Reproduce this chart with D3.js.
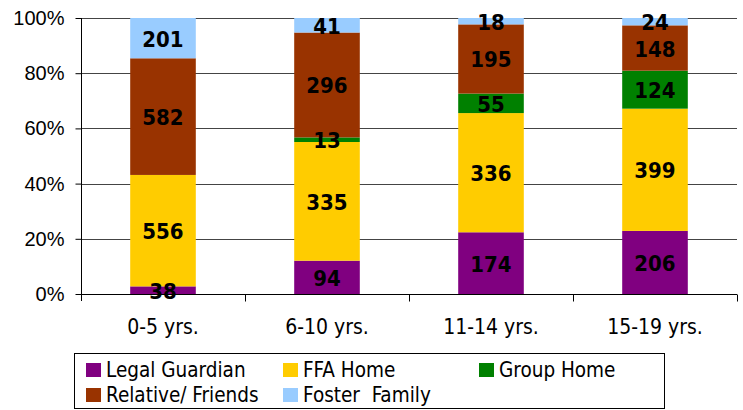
<!DOCTYPE html>
<html>
<head>
<meta charset="utf-8">
<script src="https://cdn.jsdelivr.net/npm/d3@7"></script>
<style>
  html, body { margin: 0; padding: 0; background: #fff; }
  svg { display: block; }
</style>
</head>
<body>
<div id="chart"></div>
<script>
// age groups and placement counts
const categories = ["0-5 yrs.", "6-10 yrs.", "11-14 yrs.", "15-19 yrs."];
const seriesNames = ["Legal Guardian", "FFA Home", "Group Home", "Relative/ Friends", "Foster  Family"];
const legalGuardian = [38, 94, 174, 206];
const ffaHome = [556, 335, 336, 399];
const groupHome = [0, 13, 55, 124];
const relativeFriends = [582, 296, 195, 148];
const fosterFamily = [201, 41, 18, 24];
const colors = ["#800080", "#FFCC00", "#008000", "#993300", "#99CCFF"];
const yTicks = [0, 0.2, 0.4, 0.6, 0.8, 1];

const W = 743, H = 410;
const M = {top: 18, right: 6, bottom: 116, left: 81};

const allSeries = [legalGuardian, ffaHome, groupHome, relativeFriends, fosterFamily];
const rows = categories.map((c, i) => {
  const r = {cat: c};
  seriesNames.forEach((s, j) => r[s] = allSeries[j][i]);
  return r;
});
const stacked = d3.stack().keys(seriesNames).offset(d3.stackOffsetExpand)(rows);

const svg = d3.select("#chart").append("svg").attr("width", W).attr("height", H);

const x = d3.scaleBand().domain(categories).range([M.left, W - M.right]).paddingInner(0.6).paddingOuter(0.3);
const y = d3.scaleLinear().domain([0, 1]).range([H - M.bottom, M.top]);
const step = x.step();

// gridlines
svg.append("g").selectAll("line").data(yTicks.filter(d => d > 0)).join("line")
  .attr("x1", M.left).attr("x2", W - M.right)
  .attr("y1", d => Math.round(y(d)) + 0.5).attr("y2", d => Math.round(y(d)) + 0.5)
  .attr("stroke", "#444").attr("stroke-width", 1);

// bars
const layer = svg.append("g").selectAll("g").data(stacked).join("g")
  .attr("fill", (d, i) => colors[i]);
layer.selectAll("rect").data(d => d).join("rect")
  .attr("x", d => x(d.data.cat))
  .attr("width", x.bandwidth())
  .attr("y", d => y(d[1]))
  .attr("height", d => y(d[0]) - y(d[1]));

// value labels
stacked.forEach((s, i) => {
  svg.append("g").selectAll("text").data(s.filter(d => d.data[s.key] > 0)).join("text")
    .attr("x", d => x(d.data.cat) + x.bandwidth() / 2)
    .attr("y", d => (y(d[0]) + y(d[1])) / 2 + 1)
    .attr("text-anchor", "middle")
    .attr("dominant-baseline", "central")
    .attr("font-family", "'DejaVu Sans Condensed', 'DejaVu Sans', sans-serif")
    .attr("font-weight", "bold")
    .attr("font-size", 22)
    .attr("fill", "#000")
    .text(d => d.data[s.key]);
});

// y axis
const yAxis = svg.append("g").attr("transform", `translate(${M.left + 0.5},0)`)
  .call(d3.axisLeft(y).tickValues(yTicks).tickFormat(d3.format(".0%")).tickSize(6).tickPadding(11));
yAxis.select(".domain").attr("stroke", "#000").attr("d", `M0,${M.top}V${H - M.bottom + 7}`);
yAxis.selectAll(".tick line").attr("stroke", "#000");
yAxis.selectAll("text").attr("font-family", "'Liberation Sans', Arial, sans-serif").attr("font-size", 20).attr("fill", "#000");

// x axis baseline and between-category ticks
const base = Math.round(y(0)) + 0.5;
svg.append("line").attr("x1", M.left).attr("x2", W - M.right).attr("y1", base).attr("y2", base)
  .attr("stroke", "#000");
svg.append("g").selectAll("line").data(d3.range(1, categories.length + 1)).join("line")
  .attr("x1", i => Math.round(M.left + i * step) + 0.5).attr("x2", i => Math.round(M.left + i * step) + 0.5)
  .attr("y1", base).attr("y2", base + 7).attr("stroke", "#000");

svg.append("g").selectAll("text").data(categories).join("text")
  .attr("x", d => x(d) + x.bandwidth() / 2)
  .attr("y", 334)
  .attr("text-anchor", "middle")
  .attr("font-family", "'DejaVu Sans Condensed', 'DejaVu Sans', sans-serif")
  .attr("font-size", 21)
  .text(d => d);

// legend
const lg = svg.append("g");
lg.append("rect").attr("x", 74.5).attr("y", 353.5).attr("width", 590).attr("height", 55)
  .attr("fill", "#fff").attr("stroke", "#000");
const colX = [86, 283, 479];
const rowY = [370, 395];
seriesNames.forEach((s, i) => {
  const cx = colX[i % 3], cy = rowY[Math.floor(i / 3)];
  lg.append("rect").attr("x", cx).attr("y", cy - 7).attr("width", 15).attr("height", 14).attr("fill", colors[i]);
  lg.append("text").attr("x", cx + 20).attr("y", cy)
    .attr("dominant-baseline", "central")
    .attr("font-family", "'DejaVu Sans Condensed', 'DejaVu Sans', sans-serif")
    .attr("font-size", 20.5)
    .style("white-space", "pre")
    .text(s);
});
</script>
</body>
</html>
